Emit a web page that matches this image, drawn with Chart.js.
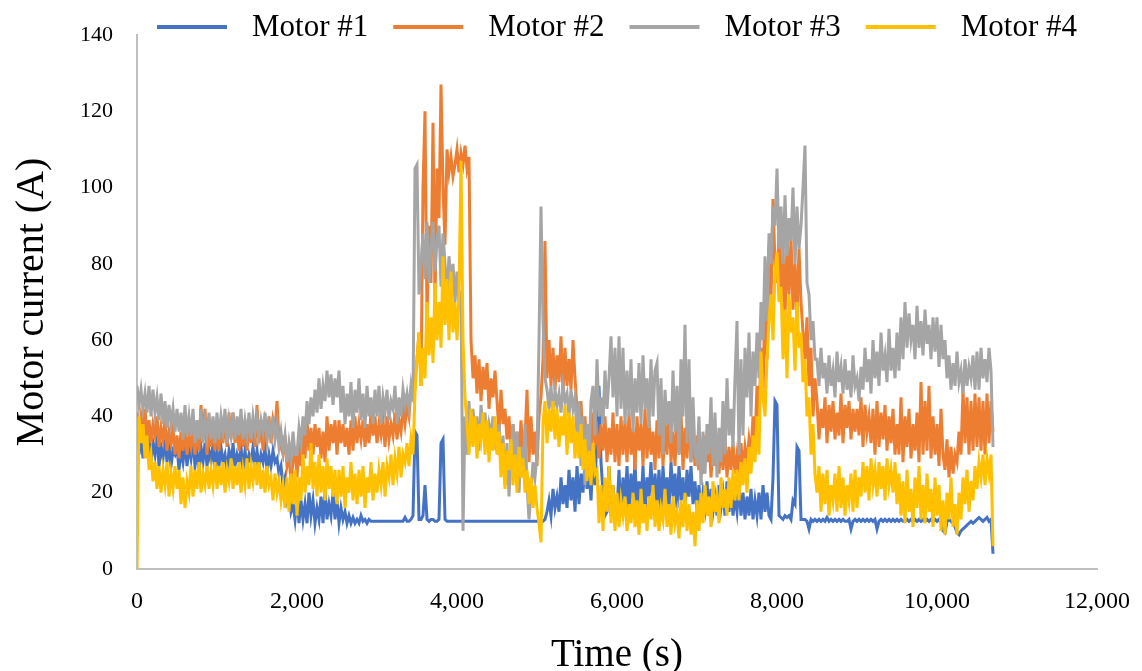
<!DOCTYPE html>
<html>
<head>
<meta charset="utf-8">
<title>Motor current</title>
<script src="https://cdn.jsdelivr.net/npm/chart.js@4.4.1/dist/chart.umd.min.js"></script>
<style>
    html, body { margin: 0; padding: 0; background: #fff; }
    #wrap { width: 1142px; height: 671px; }
</style>
</head>
<body>
<div id="wrap"><canvas id="motor-chart" width="1142" height="671"></canvas></div>
<script>
// Motor currents, one sample every 25 s (0 .. 10700 s)
const sampleStep = 25;

const seriesNames = ['Motor #1', 'Motor #2', 'Motor #3', 'Motor #4'];
const xTicks = [0, 2000, 4000, 6000, 8000, 10000, 12000];
const yTicks = [0, 20, 40, 60, 80, 100, 120, 140];

// 20 samples per row = 500 s
const motor1 = [
    36, 30, 35, 29, 34, 31, 36, 28, 33, 30, 35, 27, 32, 29, 34, 28, 33, 27, 31, 30,
    32, 26, 31, 28, 33, 27, 32, 29, 34, 27, 31, 26, 32, 28, 33, 27, 31, 28, 33, 26,
    31, 27, 32, 28, 30, 26, 31, 28, 33, 27, 30, 28, 32, 26, 31, 27, 30, 28, 32, 27,
    31, 27, 30, 28, 32, 26, 30, 27, 31, 28, 29, 25, 27, 22, 24, 18, 20, 15, 17, 13,
    19, 12, 18, 13, 17, 12, 20, 14, 18, 12, 16, 13, 19, 12, 21, 13, 17, 14, 20, 13,
    18, 12, 16, 13, 15, 12, 14, 12, 13.5, 12, 13, 12, 14, 12.5, 13, 12, 13, 12.5, 12.5, 12.5,
    12.5, 12.5, 12.5, 12.5, 12.5, 12.5, 12.5, 12.5, 12.5, 12.5, 12.5, 12.5, 12.5, 12.5, 13.5, 12.5, 12.5, 13, 14, 36,
    35, 13, 13, 14, 22, 13, 12.5, 13, 13, 12.5, 12.5, 13, 33, 34, 13, 12.5, 12.5, 12.5, 12.5, 12.5,
    12.5, 12.5, 12.5, 12.5, 12.5, 12.5, 12.5, 12.5, 12.5, 12.5, 12.5, 12.5, 12.5, 12.5, 12.5, 12.5, 12.5, 12.5, 12.5, 12.5,
    12.5, 12.5, 12.5, 12.5, 12.5, 12.5, 12.5, 12.5, 12.5, 12.5, 12.5, 12.5, 12.5, 12.5, 12.5, 12.5, 12.5, 12.5, 12.5, 12.5,
    12.5, 12.5, 12.5, 12.5, 13, 15, 18, 14, 21, 16, 19, 15, 24, 17, 22, 16, 26, 18, 24, 15,
    27, 17, 25, 20, 28, 21, 26, 18, 30, 22, 35, 48, 28, 20, 14, 15, 27, 14, 22, 13,
    15, 26, 14, 24, 17, 27, 15, 25, 18, 28, 16, 23, 17, 27, 15, 24, 19, 28, 16, 25,
    17, 26, 15, 27, 18, 24, 16, 28, 19, 25, 16, 27, 18, 24, 15, 26, 19, 27, 17, 23,
    15, 22, 14, 20, 16, 23, 14, 21, 15, 19, 14, 22, 16, 20, 14, 23, 15, 21, 14, 19,
    15, 22, 14, 20, 13, 19, 14, 21, 13, 18, 14, 20, 13, 22, 15, 20, 14, 13, 24, 44,
    43, 14, 13.5, 13, 14, 13.5, 14, 13, 18, 17, 32, 31, 13, 13, 13, 12.5, 10.5, 13, 12.5, 13,
    12.5, 13, 12.5, 13, 12.5, 13.5, 12.5, 13, 12.5, 13, 12.5, 13, 12.5, 13, 12.5, 12.5, 13, 10.5, 12.5, 13,
    12.5, 13, 12.5, 13, 12.5, 13, 12.5, 13, 12.5, 13, 10.5, 12.5, 13, 12.5, 13, 12.5, 13, 12.5, 13, 12.5,
    13, 12.5, 13, 12.5, 12.5, 13, 12.5, 13, 12.5, 13, 12.5, 13, 12.5, 13, 12.5, 13, 12.5, 13, 12.5, 13,
    12.5, 13, 12.5, 10, 9.5, 12.5, 13, 12.5, 12, 11, 9.5, 9, 10, 10.5, 11, 11.5, 12, 12.5, 12, 12.5,
    13, 13.5, 13, 12.5, 13, 13.5, 12.5, 13, 4
];

const motor2 = [
    41, 35, 40, 36, 42, 34, 39, 33, 38, 35, 40, 32, 37, 34, 39, 31, 36, 33, 37, 30,
    35, 29, 36, 31, 37, 30, 35, 32, 36, 30, 37, 31, 43, 35, 42, 30, 37, 32, 38, 31,
    38, 31, 39, 33, 40, 32, 41, 34, 41, 33, 38, 31, 37, 32, 39, 31, 38, 33, 39, 32,
    43, 33, 39, 31, 38, 34, 40, 33, 39, 36, 44, 34, 32, 30, 35, 27, 30, 23, 28, 32,
    24, 33, 27, 36, 29, 39, 31, 37, 30, 38, 32, 37, 29, 36, 28, 40, 31, 38, 33, 39,
    30, 39, 33, 38, 32, 37, 30, 39, 31, 40, 33, 38, 34, 39, 32, 38, 33, 41, 35, 40,
    33, 38, 35, 39, 32, 40, 34, 38, 35, 41, 34, 39, 36, 42, 38, 43, 40, 47, 45, 50,
    55, 62, 48, 100, 120, 65, 90, 75, 117, 70, 105, 92, 127, 100, 85, 110, 104, 108, 103, 106,
    110, 104, 109, 106, 111, 105, 108, 60, 50, 56, 46, 55, 44, 53, 47, 54, 42, 50, 45, 52,
    44, 36, 47, 38, 42, 34, 40, 31, 38, 30, 36, 29, 39, 30, 34, 47, 28, 40, 30, 36,
    27, 40, 45, 55, 86, 50, 60, 48, 58, 47, 56, 49, 61, 46, 58, 48, 55, 47, 60, 50,
    42, 35, 44, 31, 40, 29, 38, 30, 41, 33, 36, 29, 38, 31, 40, 28, 37, 30, 41, 28,
    38, 27, 40, 30, 39, 28, 41, 30, 37, 26, 40, 31, 38, 27, 42, 29, 39, 30, 36, 26,
    39, 29, 40, 27, 38, 30, 42, 28, 36, 27, 39, 30, 41, 26, 37, 29, 40, 28, 36, 27,
    35, 26, 33, 25, 35, 28, 34, 24, 32, 27, 35, 25, 33, 26, 34, 24, 32, 26, 33, 25,
    30, 25, 33, 26, 32, 28, 34, 30, 40, 33, 48, 38, 58, 45, 73, 55, 85, 70, 97, 80,
    75, 88, 70, 83, 66, 85, 72, 87, 68, 80, 66, 84, 70, 62, 55, 66, 48, 58, 40, 50,
    44, 34, 42, 37, 45, 33, 43, 36, 44, 34, 41, 35, 46, 33, 43, 37, 44, 34, 42, 36,
    42, 35, 45, 32, 43, 36, 40, 33, 42, 30, 44, 32, 41, 34, 43, 31, 40, 33, 42, 30,
    38, 30, 45, 28, 40, 32, 42, 29, 38, 31, 41, 28, 49, 30, 44, 31, 48, 29, 40, 30,
    38, 27, 42, 30, 26, 34, 24, 32, 25, 30, 28, 36, 30, 47, 33, 45, 30, 44, 31, 46,
    32, 45, 31, 44, 30, 46, 33, 44, 36
];

const motor3 = [
    48, 43, 47, 42, 46, 41, 48, 40, 47, 41, 45, 39, 46, 38, 44, 37, 43, 38, 42, 36,
    42, 36, 41, 34, 43, 35, 40, 35, 42, 33, 39, 34, 42, 33, 39, 35, 41, 34, 40, 33,
    41, 34, 40, 36, 42, 33, 39, 35, 41, 34, 40, 35, 42, 34, 39, 35, 41, 34, 40, 36,
    40, 35, 39, 36, 41, 34, 38, 35, 40, 34, 38, 32, 36, 31, 35, 28, 33, 29, 36, 30,
    30, 37, 33, 40, 35, 44, 38, 45, 40, 47, 41, 50, 42, 48, 44, 52, 45, 51, 43, 50,
    45, 52, 41, 48, 38, 46, 40, 49, 37, 47, 41, 50, 39, 46, 37, 48, 40, 45, 38, 47,
    40, 48, 38, 45, 41, 47, 39, 44, 42, 48, 38, 45, 40, 47, 43, 46, 42, 48, 44, 105,
    106, 72, 80, 88, 76, 91, 75, 84, 91, 78, 86, 90, 74, 88, 80, 72, 82, 75, 80, 70,
    78, 70, 73, 10, 40, 30, 44, 33, 42, 35, 40, 31, 43, 36, 41, 33, 38, 35, 40, 32,
    31, 38, 26, 35, 22, 33, 19, 30, 38, 24, 36, 20, 32, 24, 38, 22, 13, 20, 28, 24,
    30, 60, 95, 65, 50, 47, 42, 48, 40, 47, 43, 46, 41, 48, 44, 46, 40, 47, 42, 45,
    35, 44, 27, 40, 22, 38, 30, 44, 48, 35, 55, 40, 45, 38, 52, 42, 50, 61, 45, 58,
    40, 61, 42, 58, 38, 52, 40, 55, 36, 50, 41, 54, 38, 56, 42, 50, 37, 55, 40, 52,
    54, 35, 50, 30, 47, 38, 44, 33, 52, 36, 48, 30, 55, 40, 64, 33, 55, 28, 45, 30,
    28, 40, 22, 36, 25, 38, 30, 45, 27, 41, 24, 37, 28, 44, 30, 50, 35, 42, 32, 50,
    65, 30, 55, 35, 58, 45, 62, 40, 57, 48, 62, 50, 70, 60, 82, 65, 88, 80, 95, 90,
    105, 84, 95, 80, 98, 82, 92, 86, 100, 80, 95, 84, 90, 100, 111, 75, 72, 60, 65, 55,
    55, 48, 58, 50, 54, 46, 56, 48, 52, 45, 57, 49, 53, 46, 55, 47, 52, 45, 56, 48,
    50, 44, 53, 47, 58, 49, 55, 46, 60, 50, 57, 48, 62, 52, 56, 49, 63, 52, 58, 50,
    62, 52, 66, 55, 70, 58, 67, 60, 64, 55, 69, 58, 65, 56, 68, 59, 64, 55, 66, 57,
    66, 53, 64, 55, 60, 50, 56, 47, 54, 48, 57, 49, 52, 46, 55, 48, 53, 50, 56, 47,
    57, 47, 58, 50, 55, 49, 58, 52, 32
];

const motor4 = [
    0, 40, 33, 38, 29, 35, 26, 30, 23, 28, 21, 27, 20, 26, 22, 28, 19, 25, 21, 27,
    21, 26, 17, 24, 16, 23, 20, 27, 19, 26, 21, 28, 20, 25, 22, 27, 21, 26, 22, 28,
    21, 27, 22, 28, 20, 26, 23, 29, 21, 27, 22, 28, 20, 26, 22, 29, 21, 27, 23, 28,
    22, 28, 21, 26, 20, 27, 22, 24, 18, 25, 20, 23, 18, 22, 16, 24, 15, 25, 17, 26,
    14, 24, 18, 30, 20, 27, 22, 33, 21, 28, 19, 30, 20, 27, 18, 29, 21, 27, 19, 26,
    17, 26, 19, 27, 16, 24, 20, 28, 18, 25, 17, 26, 19, 27, 16, 24, 20, 28, 18, 25,
    20, 26, 22, 28, 19, 27, 24, 30, 22, 29, 25, 32, 24, 30, 28, 33, 27, 34, 30, 46,
    55, 62, 48, 58, 50, 70, 56, 66, 54, 75, 60, 70, 58, 82, 64, 76, 60, 78, 62, 70,
    60, 72, 107, 60, 45, 38, 30, 42, 32, 40, 29, 38, 34, 41, 30, 39, 28, 37, 31, 40,
    30, 36, 24, 33, 21, 31, 26, 34, 22, 30, 20, 32, 24, 29, 20, 26, 17, 24, 16, 22,
    16, 12, 7, 38, 44, 33, 42, 36, 44, 34, 42, 32, 40, 35, 43, 30, 41, 33, 40, 29,
    36, 29, 38, 26, 34, 23, 31, 22, 33, 25, 26, 12, 22, 10, 24, 15, 27, 12, 22, 10,
    20, 11, 18, 14, 19, 10, 17, 12, 20, 11, 18, 9, 21, 12, 17, 10, 19, 13, 22, 11,
    18, 10, 16, 13, 21, 11, 17, 9, 19, 12, 15, 8, 18, 11, 20, 10, 17, 9, 15, 6,
    18, 10, 20, 12, 22, 14, 19, 11, 23, 15, 19, 12, 24, 16, 21, 14, 24, 16, 26, 18,
    26, 18, 28, 22, 29, 20, 32, 25, 35, 28, 40, 30, 57, 45, 40, 55, 65, 72, 60, 78,
    83, 70, 74, 55, 68, 50, 72, 62, 66, 52, 70, 58, 62, 49, 55, 40, 45, 30, 38, 25,
    20, 27, 15, 25, 17, 26, 14, 22, 18, 25, 15, 27, 16, 24, 14, 22, 18, 25, 15, 26,
    16, 24, 19, 28, 20, 27, 18, 29, 22, 26, 19, 28, 21, 27, 18, 29, 22, 26, 20, 28,
    17, 25, 14, 23, 12, 26, 15, 21, 11, 24, 16, 27, 13, 22, 12, 25, 15, 21, 11, 24,
    14, 22, 10, 18, 9, 20, 13, 24, 11, 17, 9, 20, 13, 24, 17, 26, 15, 23, 18, 27,
    21, 28, 24, 30, 22, 29, 25, 30, 6
];

const seriesColors = ['#4472C4', '#ED7D31', '#A5A5A5', '#FFC000'];
const serif = '"Times New Roman", "Liberation Serif", serif';

function toPoints(values) {
    return values.map((v, i) => ({ x: i * sampleStep, y: v }));
}

/**
 * Excel style legend row above the plot: a short line, then the name
 */
const lineLegend = {
    id: 'lineLegend',
    afterDraw(chart) {
        const c = chart.ctx;
        let x = 157;
        const y = 27;
        c.save();
        c.font = '31px ' + serif;
        c.textBaseline = 'middle';
        c.textAlign = 'left';
        chart.data.datasets.forEach(ds => {
            c.strokeStyle = ds.borderColor;
            c.lineWidth = 4;
            c.beginPath();
            c.moveTo(x, y);
            c.lineTo(x + 70, y);
            c.stroke();
            x += 70 + 25;
            c.fillStyle = '#000';
            c.fillText(ds.label, x, y + 1);
            x += c.measureText(ds.label).width + 25;
        });
        c.restore();
    }
};

const allSeries = [motor1, motor2, motor3, motor4];

const ctx = document.getElementById('motor-chart').getContext('2d');
const motorChart = new Chart(ctx, {
    type: 'line',
    data: {
        datasets: allSeries.map((values, i) => ({
            label: seriesNames[i],
            data: toPoints(values),
            borderColor: seriesColors[i],
            backgroundColor: seriesColors[i],
            borderWidth: 3,
            pointRadius: 0,
            tension: 0,
            fill: false,
            order: allSeries.length - i   // later motors drawn on top, like Excel
        }))
    },
    options: {
        responsive: false,
        animation: false,
        layout: {
            padding: { left: 0, right: 45, top: 35, bottom: 0 }
        },
        plugins: {
            legend: { display: false },
            tooltip: { enabled: false }
        },
        scales: {
            x: {
                type: 'linear',
                min: 0,
                max: 12000,
                grid: { display: false },
                border: { display: true, color: '#BFBFBF', width: 2 },
                afterBuildTicks: scale => { scale.ticks = xTicks.map(v => ({ value: v })); },
                afterFit: scale => { scale.height = 102; },
                ticks: {
                    color: '#000',
                    padding: 10,
                    maxRotation: 0,
                    font: { family: serif, size: 24 },
                    callback: value => value.toLocaleString('en-US')
                },
                title: {
                    display: true,
                    text: 'Time (s)',
                    color: '#000',
                    font: { family: serif, size: 39 },
                    padding: { top: 0, bottom: -8 }
                }
            },
            y: {
                min: 0,
                max: 140,
                grid: { display: false },
                border: { display: true, color: '#BFBFBF', width: 2 },
                afterBuildTicks: scale => { scale.ticks = yTicks.map(v => ({ value: v })); },
                afterFit: scale => { scale.width = 137; },
                ticks: {
                    color: '#000',
                    padding: 16,
                    font: { family: serif, size: 22 }
                },
                title: {
                    display: true,
                    text: 'Motor current (A)',
                    color: '#000',
                    font: { family: serif, size: 40 },
                    padding: { top: 8, bottom: 0 }
                }
            }
        }
    },
    plugins: [lineLegend]
});
</script>
</body>
</html>
